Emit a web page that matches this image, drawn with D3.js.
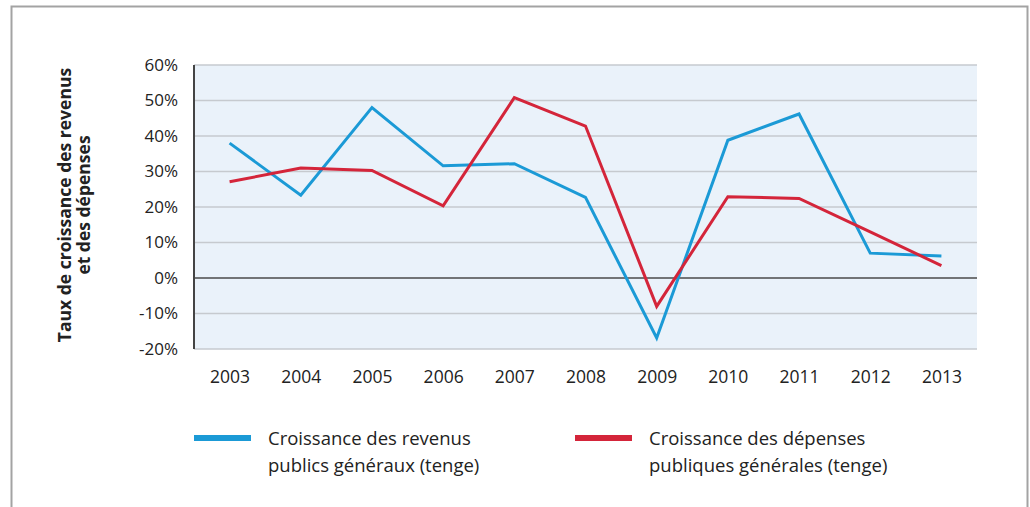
<!DOCTYPE html>
<html>
<head>
<meta charset="utf-8">
<script src="https://cdn.jsdelivr.net/npm/d3@7"></script>
<style>
  body { margin: 0; background: #fff; }
  text { font-family: "Open Sans", "Noto Sans", sans-serif; fill: #222; }
</style>
</head>
<body>
<div id="chart"></div>
<script>
// Data
var years = ["2003", "2004", "2005", "2006", "2007", "2008", "2009", "2010", "2011", "2012", "2013"];
var revenue = [38.0, 23.3, 48.0, 31.6, 32.2, 22.7, -16.9, 38.8, 46.2, 7.0, 6.2];
var spending = [27.1, 31.0, 30.3, 20.3, 50.8, 42.8, -8.0, 22.9, 22.4, 13.0, 3.5];
var yTicks = [-20, -10, 0, 10, 20, 30, 40, 50, 60];
var seriesNames = [
    ["Croissance des revenus", "publics généraux (tenge)"],
    ["Croissance des dépenses", "publiques générales (tenge)"]
];
var seriesColors = ["#1b9ad6", "#d4253a"];
var yTitle = ["Taux de croissance des revenus", "et des dépenses"];

var W = 1030, H = 507;
var plot = { left: 194, right: 977, top: 65, bottom: 349 };

var svg = d3.select("#chart").append("svg")
    .attr("width", W)
    .attr("height", H);

// outer frame (open at the bottom)
svg.append("path")
    .attr("d", "M11.5," + H + "V6.5H1027.5V" + H)
    .attr("fill", "none")
    .attr("stroke", "#a3a3a3")
    .attr("stroke-width", 2);

var x = d3.scalePoint().domain(years).range([plot.left, plot.right]).padding(0.5);
var y = d3.scaleLinear().domain([-20, 60]).range([plot.bottom, plot.top]);

// plot background
svg.append("rect")
    .attr("x", plot.left)
    .attr("y", plot.top)
    .attr("width", plot.right - plot.left)
    .attr("height", plot.bottom - plot.top)
    .attr("fill", "#eaf2fa");

// gridlines
svg.append("g").selectAll("line")
    .data(yTicks)
    .enter().append("line")
    .attr("x1", plot.left)
    .attr("x2", plot.right)
    .attr("y1", function(d){ return y(d); })
    .attr("y2", function(d){ return y(d); })
    .attr("stroke", function(d){ return d == 0 ? "#4a4a4a" : "#c6cacf"; })
    .attr("stroke-width", 1.6);

// left axis line
svg.append("line")
    .attr("x1", plot.left)
    .attr("x2", plot.left)
    .attr("y1", plot.top)
    .attr("y2", plot.bottom)
    .attr("stroke", "#444")
    .attr("stroke-width", 2);

// y axis labels
var yAxis = svg.append("g")
    .attr("transform", "translate(" + (plot.left - 16) + ",0)")
    .call(d3.axisLeft(y).tickValues(yTicks).tickSize(0).tickPadding(0)
        .tickFormat(function(d){ return d + "%"; }));
yAxis.select(".domain").remove();
yAxis.selectAll("text")
    .attr("font-size", 17)
    .attr("font-family", null)
    .attr("fill", "#222");

// x axis labels
var xAxis = svg.append("g")
    .attr("transform", "translate(0," + (plot.bottom + 22) + ")")
    .call(d3.axisBottom(x).tickSize(0).tickPadding(0));
xAxis.select(".domain").remove();
xAxis.selectAll("text")
    .attr("font-size", 17.5)
    .attr("font-family", null)
    .attr("fill", "#222");

// y title, two lines
var title = svg.append("text")
    .attr("transform", "translate(71,205) rotate(-90)")
    .attr("text-anchor", "middle")
    .attr("font-size", 17.5)
    .attr("font-weight", "bold");
yTitle.forEach(function(t, i){
    title.append("tspan")
        .attr("x", 0)
        .attr("y", i * 19)
        .text(t);
});

// lines
var line = d3.line()
    .x(function(d, i){ return x(years[i]); })
    .y(function(d){ return y(d); });

[revenue, spending].forEach(function(s, i){
    svg.append("path")
        .datum(s)
        .attr("d", line)
        .attr("fill", "none")
        .attr("stroke", seriesColors[i])
        .attr("stroke-width", 3)
        .attr("stroke-linejoin", "miter");
});

// legend
var legendX = [194, 575];
seriesNames.forEach(function(names, i){
    var g = svg.append("g")
        .attr("transform", "translate(" + legendX[i] + ",438)");
    g.append("rect")
        .attr("x", 0)
        .attr("y", -3)
        .attr("width", 57)
        .attr("height", 6)
        .attr("fill", seriesColors[i]);
    var t = g.append("text")
        .attr("font-size", 18.5)
        .attr("fill", "#222");
    names.forEach(function(n, j){
        t.append("tspan")
            .attr("x", 74)
            .attr("y", 7 + j * 27)
            .text(n);
    });
});
</script>
</body>
</html>
